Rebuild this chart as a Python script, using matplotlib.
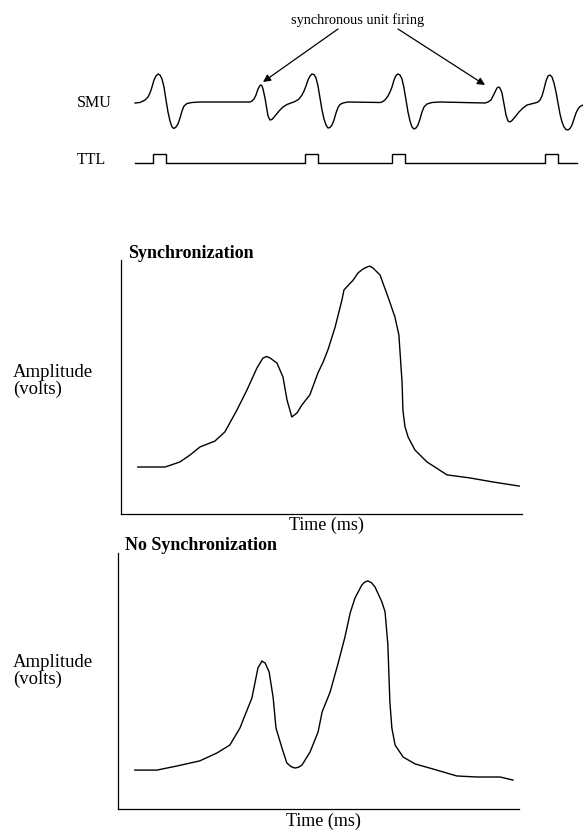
import matplotlib
matplotlib.use("Agg")
import matplotlib.pyplot as plt

plt.rcParams['font.family'] = ['Liberation Serif', 'DejaVu Serif']

# ---- SMU trace (time in 0.1 ms, voltage in arbitrary units) ----
smu_t = [0, 5, 10, 13, 15, 17, 19, 21, 23, 25, 27, 29, 31, 33, 35, 37, 39, 41, 43, 45,
         47, 49, 52, 57, 65, 115, 117, 119, 121, 123, 125, 126, 127, 128, 130, 132,
         133, 135, 137, 140, 144, 148, 152, 156, 160, 164, 167, 169, 171, 173, 175,
         177, 179, 181, 183, 185, 187, 189, 191, 193, 195, 197, 199, 201, 203, 205,
         208, 213, 245, 247, 250, 253, 255, 257, 259, 261, 263, 265, 267, 269, 271,
         273, 275, 277, 279, 281, 283, 285, 287, 289, 292, 297, 305, 350, 353, 356,
         358, 360, 362, 363.5, 365, 367, 369, 371, 373, 375, 377, 380, 384, 388, 392,
         396, 400, 403, 405, 407, 409, 411, 413, 415, 417, 419, 421, 423, 425, 427,
         429, 431, 433, 435, 437, 439, 441, 443, 445, 448]
smu_v = [1, 1.5, 4, 7, 11, 17, 24, 28, 30, 29, 25, 17, 4, -8, -17, -23, -24.5, -23, -20, -14,
         -7, -2, 0.5, 1.5, 2, 2, 3, 5, 9, 15, 18.5, 19, 18, 15, 6, -6,
         -12, -16, -15.5, -12, -7, -3, -0.5, 1, 2.5, 5, 9, 13, 18, 24, 28,
         30, 29.5, 26, 18, 6, -6, -15, -21, -24, -23.5, -21, -16, -9, -3.5, -0.5,
         1, 2, 1.5, 2, 4, 8, 12, 17, 24, 28.5, 30, 29, 25, 16, 4,
         -8, -17, -23, -25, -24, -21, -15, -8, -3, 0, 1.5, 2, 1, 2, 4,
         8, 12, 16, 17, 16, 11, 0, -11, -17, -18, -16.5, -13, -8, -4, -1,
         0, 1, 2, 4, 8, 15, 23, 28, 29, 27, 21, 12, 1, -10, -18,
         -23, -25.5, -26, -24.5, -21, -15, -9, -5, -2.5, -1]

# ---- TTL pulses (same time units) ----
ttl_starts = [18, 170, 257, 410]
ttl_width = 12.5
ttl_end = 442

# synchronous unit firings pointed at by the arrows (time, voltage)
sync_t = [128, 350]
sync_v = [22, 19]

# ---- Averaged responses (time %, amplitude %) ----
sync_time = [4.2, 11.0, 14.7, 17.2, 19.7, 23.4, 25.9, 28.9, 31.4, 33.9, 35.4, 36.3, 37.2,
             38.9, 40.4, 41.4, 42.6, 43.9, 45.1, 47.1, 49.1, 50.4, 51.6, 53.4,
             55.1, 55.6, 57.9, 59.1, 60.3, 61.3, 62.0, 62.8, 64.6, 66.6, 68.3, 69.3, 70.1,
             70.3, 70.8, 71.6, 73.3, 76.3, 81.3, 87.0, 92.8, 99.3]
sync_amp = [18.5, 18.5, 20.5, 23.2, 26.4, 28.7, 32.3, 40.9, 48.8, 57.5, 61.4, 62.0, 61.4,
            59.4, 53.9, 44.9, 38.2, 39.8, 42.9, 46.9, 55.5, 59.8, 64.6, 73.6,
            84.3, 88.2, 92.1, 94.9, 96.4, 97.2, 97.6, 96.9, 94.1, 85.4, 77.6, 70.5, 51.6,
            40.9, 34.5, 30.3, 25.2, 20.5, 15.4, 14.2, 12.6, 11.0]

nosync_time = [4.2, 9.7, 14.7, 20.4, 24.7, 27.9, 30.4, 33.4, 34.9, 35.9, 36.7, 37.7,
               38.7, 39.4, 40.9, 42.1, 43.1, 44.1, 45.0, 45.9, 47.9, 49.9, 50.9, 52.9, 54.9,
               56.6, 57.9, 59.1, 60.8, 61.5, 62.3, 63.2, 64.1, 65.8, 66.6, 67.3, 67.8, 68.3,
               69.1, 71.1, 74.1, 78.6, 84.5, 89.5, 95.3, 98.5]
nosync_amp = [15.2, 15.2, 16.8, 18.8, 21.9, 25.0, 31.6, 43.4, 55.1, 57.8, 57.0, 53.5,
              43.4, 31.6, 23.8, 18.0, 16.6, 16.0, 16.3, 17.2, 22.3, 30.1, 37.9, 45.7, 57.0,
              67.2, 76.6, 82.4, 87.5, 88.6, 89.1, 88.4, 86.7, 80.9, 77.0, 64.1, 41.8, 31.6,
              25.0, 20.3, 17.6, 15.6, 12.9, 12.5, 12.5, 11.3]

W, H = 583, 831
fig = plt.figure(figsize=(W / 100, H / 100), dpi=100)
fig.patch.set_facecolor('white')


def fx(px):
    return px / W


def fy(py):
    return 1 - py / H


# ---- top: SMU trace ----
ax_smu = fig.add_axes([fx(135), fy(134), 450 / W, 65 / H])
ax_smu.plot(smu_t, smu_v, color='black', lw=1.0, clip_on=False,
            solid_joinstyle='round')
ax_smu.set_xlim(0, 450)
ax_smu.set_ylim(-30, 35)
ax_smu.axis('off')

# TTL
ax_ttl = fig.add_axes([fx(135), fy(172), 450 / W, 27 / H])
tx = [0.0]
ty = [0]
for s in ttl_starts:
    tx += [s, s, s + ttl_width, s + ttl_width]
    ty += [0, 1, 1, 0]
tx.append(ttl_end)
ty.append(0)
ax_ttl.plot(tx, ty, color='black', lw=1.0, clip_on=False)
ax_ttl.set_xlim(0, 450)
ax_ttl.set_ylim(-1, 2)
ax_ttl.axis('off')

fig.text(fx(77), fy(103), 'SMU', fontsize=11.5, va='center', ha='left')
fig.text(fx(77), fy(160), 'TTL', fontsize=11.5, va='center', ha='left')

fig.text(fx(358), fy(20), 'synchronous unit firing', fontsize=10.3,
         ha='center', va='center')
tails = [(fx(338), fy(29)), (fx(398), fy(29))]
for t, v, tail in zip(sync_t, sync_v, tails):
    ax_smu.annotate('', xy=(t, v), xycoords='data',
                    xytext=tail, textcoords='figure fraction',
                    arrowprops=dict(arrowstyle='-|>', lw=0.9, color='black',
                                    mutation_scale=11, shrinkA=0, shrinkB=0))


# ---- response plots ----
def response_axes(left, top, bottom, right, time, amp, title, title_x, title_y,
                  amp_y, time_x, time_y):
    ax = fig.add_axes([fx(left), fy(bottom), (right - left) / W, (bottom - top) / H])
    ax.plot(time, amp, color='black', lw=1.0, solid_joinstyle='round')
    ax.set_xlim(0, 100)
    ax.set_ylim(0, 100)
    for s in ['top', 'right']:
        ax.spines[s].set_visible(False)
    for s in ['left', 'bottom']:
        ax.spines[s].set_linewidth(0.9)
    ax.set_xticks([])
    ax.set_yticks([])
    fig.text(fx(title_x), fy(title_y), title, fontsize=13, fontweight='bold',
             ha='left', va='center')
    fig.text(fx(13), fy(amp_y), 'Amplitude\n(volts)', fontsize=13.5, ha='left',
             va='center', linespacing=0.92)
    fig.text(fx(time_x), fy(time_y), 'Time (ms)', fontsize=13, ha='center',
             va='center')
    return ax


response_axes(121, 260, 514, 522, sync_time, sync_amp, 'Synchronization',
              128, 253, 381, 326, 525)
response_axes(118, 553, 809, 519, nosync_time, nosync_amp, 'No Synchronization',
              125, 545, 671, 323, 821)

fig.savefig('out.png', dpi=100, facecolor='white')
